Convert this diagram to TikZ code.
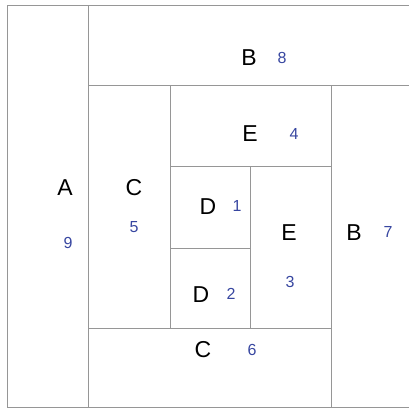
\documentclass[tikz,border=0pt]{standalone}
\usepackage{fontspec}
\setmainfont{Liberation Sans}
\definecolor{rulegray}{RGB}{150,150,150}
\definecolor{numblue}{RGB}{55,70,160}
\usetikzlibrary{positioning}

\tikzset{
  cell/.style={draw=rulegray, line width=0.9pt, inner sep=0pt, anchor=north west},
  tag/.style={font=\fontsize{23}{25}\selectfont, inner sep=0pt},
  num/.style={font=\fontsize{16}{18}\selectfont, text=numblue, inner sep=0pt}
}

\begin{document}
\begin{tikzpicture}[x=1pt, y=-1pt]
\useasboundingbox (0,0) rectangle (409,408);
\clip (0,0) rectangle (409,408);
% cells of the treemap
\node[cell, minimum width=81, minimum height=402] (cellA) at (7,5) {};
\node[cell, minimum width=330, minimum height=80] (cellBtop) at (88,5) {};
\node[cell, minimum width=82, minimum height=322] (cellBright) at (331,85) {};
\node[cell, minimum width=82, minimum height=243] (cellCleft) at (88,85) {};
\node[cell, minimum width=243, minimum height=79] (cellCbot) at (88,328) {};
\node[cell, minimum width=161, minimum height=81] (cellEtop) at (170,85) {};
\node[cell, minimum width=80, minimum height=82] (cellDtop) at (170,166) {};
\node[cell, minimum width=80, minimum height=80] (cellDbot) at (170,248) {};
\node[cell, minimum width=81, minimum height=162] (cellEright) at (250,166) {};
% labels
\node[tag] (labA) at (65,188) {A};
\node[num] (numA) at (68,243) {9};
\node[tag] (labBtop) at (249,58) {B};
\node[num] (numBtop) at (282,58) {8};
\node[tag] (labBright) at (354,233) {B};
\node[num] (numBright) at (388,232) {7};
\node[tag] (labCleft) at (134,188) {C};
\node[num] (numCleft) at (134,227) {5};
\node[tag] (labCbot) at (203,350) {C};
\node[num] (numCbot) at (252,350) {6};
\node[tag] (labEtop) at (250,134) {E};
\node[num] (numEtop) at (294,134) {4};
\node[tag] (labDtop) at (208,207) {D};
\node[num] (numDtop) at (237,206) {1};
\node[tag] (labDbot) at (201,295) {D};
\node[num] (numDbot) at (231,294) {2};
\node[tag] (labEright) at (289,233) {E};
\node[num] (numEright) at (290,282) {3};
\end{tikzpicture}
\end{document}
